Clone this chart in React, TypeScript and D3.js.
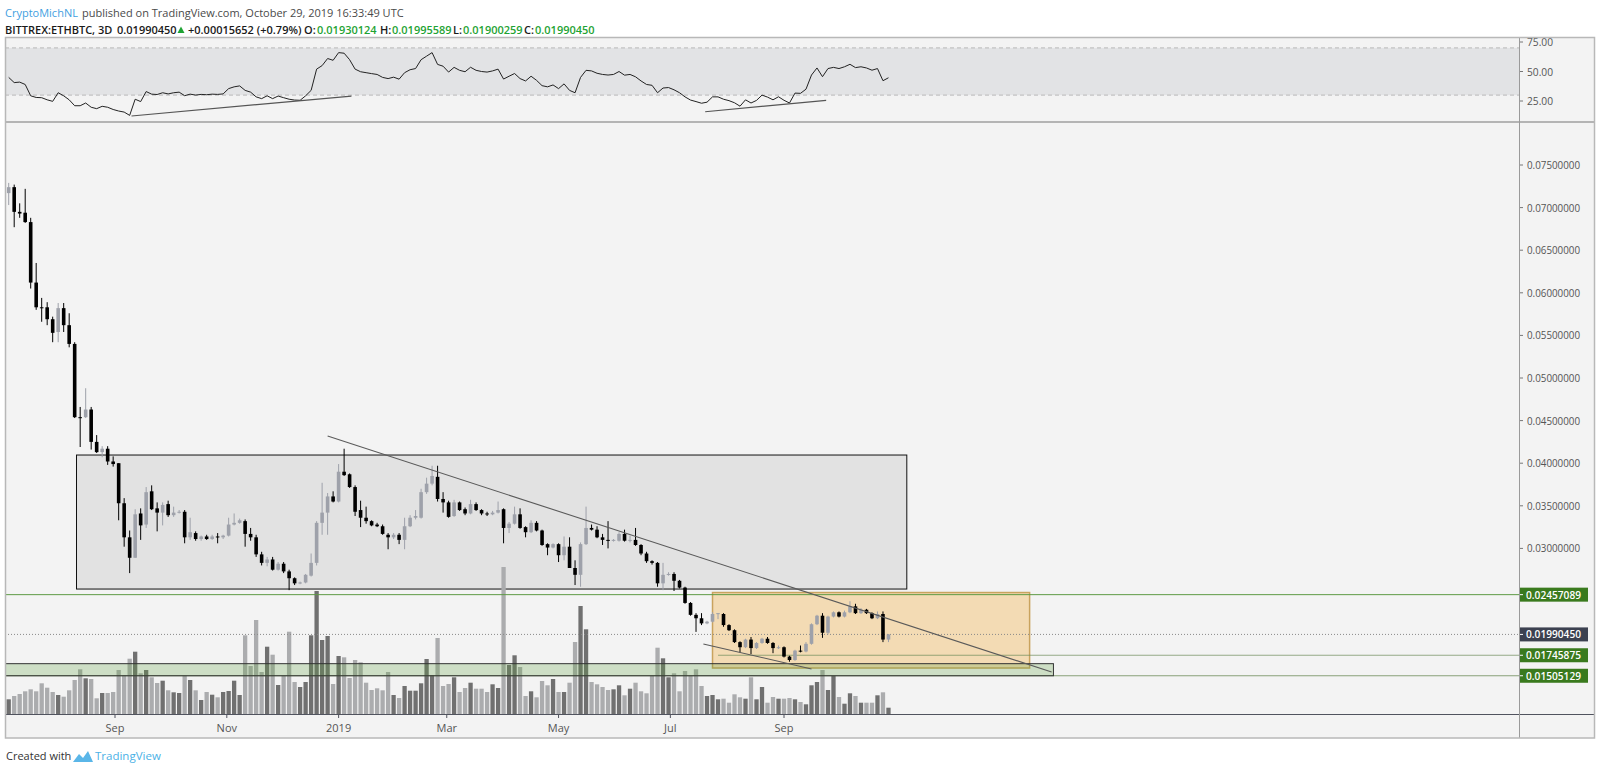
import React from 'react';
import * as d3 from 'd3';

// ETHBTC 3D candles, Jul 2018 - Oct 2019
const firstBarDate = new Date(Date.UTC(2018, 6, 5));
const barDays = 3;

const opens = [
  0.0717, 0.0724, 0.0695, 0.0694, 0.0683, 0.0612, 0.0583, 0.0583, 0.0569, 0.0554,
  0.0582, 0.0562, 0.0540, 0.0454, 0.0454, 0.0463, 0.0425, 0.0413, 0.0417, 0.0402,
  0.0400, 0.0353, 0.0313, 0.0289, 0.0341, 0.0328, 0.0367, 0.0347, 0.0342, 0.0352,
  0.0339, 0.0342, 0.0343, 0.0313, 0.0318, 0.0311, 0.0314, 0.0311, 0.0314, 0.0313,
  0.0315, 0.0328, 0.0330, 0.0332, 0.0317, 0.0313, 0.0293, 0.0283, 0.0287, 0.0275,
  0.0282, 0.0273, 0.0265, 0.0259, 0.0260, 0.0268, 0.0283, 0.0330, 0.0342, 0.0361,
  0.0355, 0.0390, 0.0387, 0.0372, 0.0345, 0.0336, 0.0332, 0.0328, 0.0326, 0.0316,
  0.0313, 0.0316, 0.0310, 0.0326, 0.0336, 0.0336, 0.0366, 0.0376, 0.0384, 0.0358,
  0.0354, 0.0338, 0.0354, 0.0346, 0.0341, 0.0352, 0.0345, 0.0341, 0.0340, 0.0342,
  0.0346, 0.0324, 0.0329, 0.0340, 0.0325, 0.0319, 0.0330, 0.0321, 0.0305, 0.0301,
  0.0305, 0.0292, 0.0302, 0.0277, 0.0269, 0.0305, 0.0324, 0.0322, 0.0313, 0.0310,
  0.0309, 0.0309, 0.0317, 0.0309, 0.0310, 0.0304, 0.0294, 0.0285, 0.0283, 0.0259,
  0.0269, 0.0270, 0.0262, 0.0254, 0.0236, 0.0222, 0.0218, 0.0212, 0.0214, 0.0223,
  0.0223, 0.0210, 0.0204, 0.0190, 0.0184, 0.0193, 0.0183, 0.0189, 0.0194, 0.0189,
  0.0183, 0.0184, 0.0173, 0.0169, 0.0180, 0.0179, 0.0188, 0.0211, 0.0221, 0.0201,
  0.0220, 0.0225, 0.0220, 0.0225, 0.0232, 0.0224, 0.0228, 0.0224, 0.0218, 0.0223,
  0.01930124,
];

const highs = [
  0.0729, 0.0727, 0.0705, 0.0722, 0.0688, 0.0635, 0.0594, 0.0589, 0.0572, 0.0588,
  0.0588, 0.0576, 0.0542, 0.0466, 0.0488, 0.0466, 0.0433, 0.0420, 0.0420, 0.0408,
  0.0400, 0.0359, 0.0321, 0.0346, 0.0347, 0.0372, 0.0374, 0.0354, 0.0354, 0.0356,
  0.0349, 0.0345, 0.0345, 0.0336, 0.0320, 0.0315, 0.0316, 0.0316, 0.0318, 0.0316,
  0.0336, 0.0341, 0.0335, 0.0334, 0.0324, 0.0316, 0.0296, 0.0290, 0.0290, 0.0284,
  0.0284, 0.0275, 0.0266, 0.0261, 0.0270, 0.0294, 0.0332, 0.0377, 0.0365, 0.0367,
  0.0399, 0.0417, 0.0388, 0.0374, 0.0356, 0.0349, 0.0333, 0.0330, 0.0328, 0.0318,
  0.0318, 0.0318, 0.0336, 0.0339, 0.0345, 0.0370, 0.0383, 0.0397, 0.0397, 0.0366,
  0.0356, 0.0357, 0.0355, 0.0348, 0.0357, 0.0354, 0.0346, 0.0343, 0.0344, 0.0355,
  0.0347, 0.0331, 0.0349, 0.0347, 0.0326, 0.0333, 0.0332, 0.0322, 0.0306, 0.0306,
  0.0306, 0.0314, 0.0313, 0.0286, 0.0307, 0.0349, 0.0328, 0.0326, 0.0317, 0.0332,
  0.0311, 0.0319, 0.0322, 0.0315, 0.0324, 0.0305, 0.0296, 0.0286, 0.0284, 0.0283,
  0.0272, 0.0272, 0.0263, 0.0255, 0.0237, 0.0224, 0.0224, 0.0215, 0.0225, 0.0224,
  0.0224, 0.0211, 0.0205, 0.0191, 0.0194, 0.0196, 0.0190, 0.0195, 0.0196, 0.0190,
  0.0186, 0.0185, 0.0174, 0.0181, 0.0186, 0.0190, 0.0212, 0.0222, 0.0224, 0.0221,
  0.0226, 0.0226, 0.0227, 0.0238, 0.0235, 0.0230, 0.0229, 0.0225, 0.0226, 0.0226,
  0.01995589,
];

const lows = [
  0.0703, 0.0677, 0.0688, 0.0682, 0.0605, 0.0580, 0.0566, 0.0562, 0.0542, 0.0542,
  0.0554, 0.0536, 0.0453, 0.0419, 0.0453, 0.0416, 0.0412, 0.0407, 0.0398, 0.0396,
  0.0333, 0.0302, 0.0271, 0.0289, 0.0310, 0.0324, 0.0345, 0.0320, 0.0327, 0.0337,
  0.0337, 0.0341, 0.0306, 0.0310, 0.0309, 0.0309, 0.0310, 0.0310, 0.0306, 0.0311,
  0.0314, 0.0327, 0.0329, 0.0302, 0.0309, 0.0290, 0.0280, 0.0279, 0.0274, 0.0274,
  0.0271, 0.0251, 0.0257, 0.0258, 0.0259, 0.0267, 0.0280, 0.0316, 0.0316, 0.0354,
  0.0354, 0.0385, 0.0371, 0.0338, 0.0325, 0.0329, 0.0326, 0.0325, 0.0316, 0.0299,
  0.0311, 0.0305, 0.0299, 0.0325, 0.0334, 0.0335, 0.0364, 0.0374, 0.0355, 0.0342,
  0.0336, 0.0337, 0.0344, 0.0339, 0.0340, 0.0344, 0.0339, 0.0338, 0.0339, 0.0341,
  0.0306, 0.0318, 0.0328, 0.0323, 0.0313, 0.0318, 0.0320, 0.0303, 0.0292, 0.0300,
  0.0284, 0.0286, 0.0277, 0.0257, 0.0255, 0.0304, 0.0321, 0.0312, 0.0304, 0.0300,
  0.0308, 0.0308, 0.0308, 0.0307, 0.0303, 0.0292, 0.0283, 0.0281, 0.0255, 0.0251,
  0.0268, 0.0250, 0.0253, 0.0235, 0.0221, 0.0202, 0.0210, 0.0211, 0.0213, 0.0217,
  0.0208, 0.0203, 0.0189, 0.0178, 0.0183, 0.0176, 0.0182, 0.0188, 0.0188, 0.0177,
  0.0182, 0.0172, 0.0167, 0.0168, 0.0178, 0.0178, 0.0187, 0.0210, 0.0195, 0.0199,
  0.0219, 0.0219, 0.0219, 0.0224, 0.0223, 0.0223, 0.0223, 0.0217, 0.0217, 0.0190,
  0.01900259,
];

const closes = [
  0.0724, 0.0695, 0.0693, 0.0683, 0.0612, 0.0583, 0.0582, 0.0569, 0.0553, 0.0582,
  0.0562, 0.0540, 0.0454, 0.0453, 0.0463, 0.0425, 0.0413, 0.0417, 0.0402, 0.0399,
  0.0353, 0.0313, 0.0289, 0.0340, 0.0327, 0.0366, 0.0346, 0.0342, 0.0351, 0.0339,
  0.0342, 0.0343, 0.0313, 0.0319, 0.0311, 0.0314, 0.0311, 0.0314, 0.0313, 0.0315,
  0.0328, 0.0330, 0.0333, 0.0317, 0.0313, 0.0293, 0.0283, 0.0287, 0.0275, 0.0282,
  0.0273, 0.0265, 0.0259, 0.0260, 0.0269, 0.0283, 0.0330, 0.0342, 0.0361, 0.0355,
  0.0390, 0.0386, 0.0372, 0.0343, 0.0336, 0.0332, 0.0327, 0.0326, 0.0317, 0.0313,
  0.0316, 0.0310, 0.0326, 0.0336, 0.0338, 0.0366, 0.0376, 0.0385, 0.0358, 0.0354,
  0.0337, 0.0354, 0.0345, 0.0341, 0.0352, 0.0345, 0.0341, 0.0340, 0.0342, 0.0345,
  0.0324, 0.0329, 0.0340, 0.0324, 0.0319, 0.0330, 0.0321, 0.0304, 0.0301, 0.0305,
  0.0292, 0.0302, 0.0277, 0.0269, 0.0305, 0.0324, 0.0322, 0.0313, 0.0310, 0.0309,
  0.0310, 0.0317, 0.0309, 0.0310, 0.0304, 0.0294, 0.0285, 0.0283, 0.0259, 0.0269,
  0.0270, 0.0262, 0.0254, 0.0236, 0.0222, 0.0218, 0.0212, 0.0214, 0.0223, 0.0224,
  0.0210, 0.0204, 0.0190, 0.0184, 0.0193, 0.0183, 0.0189, 0.0194, 0.0189, 0.0183,
  0.0184, 0.0173, 0.0169, 0.0180, 0.0179, 0.0188, 0.0211, 0.0221, 0.0201, 0.0220,
  0.0225, 0.0220, 0.0225, 0.0232, 0.0224, 0.0228, 0.0224, 0.0218, 0.0223, 0.0193,
  0.01990450,
];

// volume, thousand ETH (no axis shown)
const volumes = [
  14.7, 18, 20, 22.7, 24.7, 22.7, 30.7, 26.3, 22, 19,
  17.3, 23.7, 34, 44.7, 35.7, 35, 15.7, 21, 21, 22,
  44, 38.7, 55.3, 62.3, 40.7, 44, 36.7, 31, 33.3, 23.7,
  21.7, 21, 38, 34, 23.7, 14, 22, 19.3, 16.7, 22,
  23, 33.3, 19, 78.7, 48, 94, 42, 67.3, 59.3, 29,
  38, 82.3, 32, 27, 32, 78.7, 123, 74, 78, 30,
  58, 56.7, 36, 54, 51.7, 31.3, 24, 25.7, 23.7, 42,
  19, 16, 28, 23.3, 23.3, 30.7, 55, 38.7, 76, 28,
  30, 36.7, 22, 26, 31.3, 25.3, 25.3, 22, 29.7, 26,
  147, 49, 58.7, 47, 18, 22.7, 16.7, 33, 28.7, 35,
  22, 22, 31.3, 72, 108, 84.7, 32, 29.7, 27, 24,
  24.7, 28.7, 18.7, 25.3, 31.3, 22.7, 20.7, 38, 66.3, 55.7,
  36.7, 40.7, 22.7, 43, 38, 44.7, 28, 18, 19, 14.7,
  15.3, 11.3, 19.7, 16.7, 15.3, 36.7, 14.7, 27, 11.3, 17,
  15.3, 15.3, 16, 14.7, 12, 9.7, 28.7, 32, 44, 24,
  38, 17, 10.3, 20.7, 18, 11.3, 11.3, 11.3, 18.7, 21.7,
  6.3,
];

const rsiValues = [
  45, 40.6, 41, 39, 29.4, 28, 27.8, 26, 24.7, 32,
  29.4, 26, 21, 21, 23.3, 19.7, 18.5, 20.5, 19.7, 17.8,
  16.5, 15.6, 12.8, 26.5, 24.5, 33, 30.8, 30.5, 32, 31,
  32, 32.5, 29.5, 30.8, 30, 30.6, 30.3, 30.8, 30.6, 31,
  35.5, 37, 37.8, 34, 32.5, 28.5, 27, 29.4, 27, 29.2,
  27.8, 26.5, 25.8, 25.6, 29.4, 34, 52, 55, 61, 59.5,
  66, 65.5, 60, 52, 49.8, 49, 48.2, 47.5, 45, 44,
  45.2, 43.5, 49, 51.5, 52.5, 60, 63, 66, 56, 54.5,
  49.5, 53.5, 51, 49.8, 53.6, 51, 50, 49.5, 50.5, 52,
  43.6, 46, 48.3, 44, 42, 46, 42.5, 38, 37, 38.6,
  35.5, 39.5, 34, 32, 45, 51, 50.5, 48.5, 47.5, 47,
  47.5, 50, 46.9, 47.5, 45.5, 42, 39, 38.3, 32, 36,
  36.4, 34.5, 32, 28.5, 25.8, 24.5, 23.1, 24, 28.5, 28.5,
  26.5, 25.3, 23.5, 20.6, 26, 23.3, 25.5, 30, 28.3, 26,
  28.6, 25.6, 23.3, 31.7, 31.5, 35, 47, 53, 45.6, 52.5,
  53.5, 52.5, 54, 56.1, 53.3, 54, 53, 51.1, 52.5, 42.2,
  44.7,
];

const priceTicks = [0.03, 0.035, 0.04, 0.045, 0.05, 0.055, 0.06, 0.065, 0.07, 0.075];
const rsiTicks = [25, 50, 75];

const priceLabels = [
  { value: 0.02457089, fill: '#3a7a1e' },
  { value: 0.0199045, fill: '#3c4150' },
  { value: 0.01745875, fill: '#3a7a1e' },
  { value: 0.01505129, fill: '#3a7a1e' },
];

// header legend pieces: [text, x, green?]
const legendPieces: [string, number, boolean][] = [
  ['BITTREX:ETHBTC, 3D', 5, false],
  ['0.01990450', 117, false],
  ['+0.00015652 (+0.79%)', 188, false],
  ['O:', 304, false],
  ['0.01930124', 317, true],
  ['H:', 380, false],
  ['0.01995589', 392, true],
  ['L:', 453, false],
  ['0.01900259', 463, true],
  ['C:', 524, false],
  ['0.01990450', 535, true],
];

const utc = (y: number, m: number, d: number) => new Date(Date.UTC(y, m - 1, d));

// drawings
const trendLine = [
  { date: utc(2018, 12, 26), price: 0.04319 },
  { date: utc(2020, 1, 25), price: 0.01549 },
];
const wedgeLine = [
  { date: utc(2019, 7, 19), price: 0.01878 },
  { date: utc(2019, 9, 16), price: 0.01585 },
];
const rsiDivergence1 = [
  { date: utc(2018, 9, 10), value: 12.3 },
  { date: utc(2019, 1, 8), value: 29.2 },
];
const rsiDivergence2 = [
  { date: utc(2019, 7, 20), value: 15.9 },
  { date: utc(2019, 9, 24), value: 25.6 },
];
const rangeBox = { from: utc(2018, 8, 11), to: utc(2019, 11, 7), top: 0.04096, bottom: 0.02523 };
const orangeBox = { from: utc(2019, 7, 24), to: utc(2020, 1, 13), top: 0.02482, bottom: 0.01596 };
const supportBand = { from: utc(2018, 7, 1), to: utc(2020, 1, 26), top: 0.01647, bottom: 0.01505129 };
const rayStart = utc(2019, 7, 27);

const L = 5;
const PR = 1519; // price axis left
const FR = 1594;
const RSI_TOP = 38;
const RSI_BOT = 121;
const MAIN_TOP = 123;
const MAIN_BOT = 714;
const FRAME_BOT = 738;

const fmtPrice = (v: number) => v.toFixed(8);

export default function App() {
  const dates = opens.map((_, i) => d3.utcDay.offset(firstBarDate, i * barDays));

  const x = d3.scaleUtc().domain([utc(2018, 9, 1), utc(2019, 9, 1)]).range([115, 784]);
  const y = d3.scaleLinear().domain([0.075, 0.03]).range([165, 548.4]);
  const yr = d3.scaleLinear().domain([25, 75]).range([101, 42]);
  const yv = d3.scaleLinear().domain([0, 150]).range([MAIN_BOT, MAIN_BOT - 150]);

  const leftDate = x.invert(L);
  const rightDate = x.invert(PR);
  const timeTicks = x.ticks(d3.utcMonth.every(2)!).filter(d => d >= leftDate && d <= rightDate);
  const tickFmt = (d: Date) => (d.getUTCMonth() === 0 ? d3.utcFormat('%Y')(d) : d3.utcFormat('%b')(d));

  const rsiLine = d3.line<number>().x((_, i) => x(dates[i])).y(v => yr(v));

  const bodyW = 3.6;
  const volW = 4.3;
  const upFill = '#9ea1aa';
  const downFill = '#000000';
  const volUp = '#707070';
  const volDown = '#abacae';

  const hdrDark = '#1a1a1a';
  const green = '#1fa334';

  return (
    <svg
      width={1600}
      height={771}
      style={{ position: 'absolute', left: 0, top: 0, background: '#fff' }}
      fontFamily="'Open Sans', 'Noto Sans', 'DejaVu Sans', sans-serif"
    >
      <defs>
        <clipPath id="mainClip">
          <rect x={L} y={MAIN_TOP} width={PR - L} height={MAIN_BOT - MAIN_TOP} />
        </clipPath>
        <clipPath id="rsiClip">
          <rect x={L} y={RSI_TOP} width={PR - L} height={RSI_BOT - RSI_TOP} />
        </clipPath>
        <clipPath id="rsiAxisClip">
          <rect x={PR} y={RSI_TOP} width={FR - PR} height={RSI_BOT - RSI_TOP} />
        </clipPath>
      </defs>

      {/* header */}
      <text x={5} y={17} fontSize={11} fill="#3fa0df">CryptoMichNL</text>
      <text x={82} y={17} fontSize={11} fill="#4a4a4a">published on TradingView.com, October 29, 2019 16:33:49 UTC</text>
      <g fontSize={11} fontWeight={600}>
        {legendPieces.map(([t, px, g], i) => (
          <text key={i} x={px} y={34} fill={g ? green : hdrDark}>{t}</text>
        ))}
      </g>
      <path d="M177.5,33 L181,26.5 L184.5,33 Z" fill={green} />

      {/* frame background */}
      <rect x={L} y={RSI_TOP} width={FR - L} height={FRAME_BOT - RSI_TOP} fill="#f3f3f3" />

      {/* RSI pane */}
      <g clipPath="url(#rsiClip)">
        <rect x={L} y={yr(70)} width={PR - L} height={yr(30) - yr(70)} fill="#e2e3e5" />
        {[70, 30].map(v => (
          <line key={v} x1={L} x2={PR} y1={yr(v)} y2={yr(v)} stroke="#b9b9b9" strokeDasharray="4,3" />
        ))}
        <path d={rsiLine(rsiValues) ?? ''} fill="none" stroke="#222" strokeWidth={1} />
        {[rsiDivergence1, rsiDivergence2].map((seg, i) => (
          <line
            key={i}
            x1={x(seg[0].date)}
            y1={yr(seg[0].value)}
            x2={x(seg[1].date)}
            y2={yr(seg[1].value)}
            stroke="#555"
            strokeWidth={1.2}
          />
        ))}
      </g>
      <g clipPath="url(#rsiAxisClip)" fontSize={11} fill="#555">
        {rsiTicks.map(t => (
          <g key={t}>
            <line x1={PR} x2={PR + 4} y1={yr(t)} y2={yr(t)} stroke="#777" />
            <text x={1527} y={yr(t) + 4} textLength={26} lengthAdjust="spacingAndGlyphs">{t.toFixed(2)}</text>
          </g>
        ))}
      </g>

      {/* main pane */}
      <g clipPath="url(#mainClip)">
        <rect
          x={x(rangeBox.from)}
          y={y(rangeBox.top)}
          width={x(rangeBox.to) - x(rangeBox.from)}
          height={y(rangeBox.bottom) - y(rangeBox.top)}
          fill="rgba(0,0,0,0.065)"
          stroke="#111"
          strokeWidth={1}
        />
        <rect
          x={x(orangeBox.from)}
          y={y(orangeBox.top)}
          width={x(orangeBox.to) - x(orangeBox.from)}
          height={y(orangeBox.bottom) - y(orangeBox.top)}
          fill="rgba(245,166,35,0.3)"
          stroke="#c9a35e"
          strokeWidth={1.5}
        />

        {volumes.map((v, i) => (
          <rect
            key={i}
            x={x(dates[i]) - volW / 2}
            y={yv(v)}
            width={volW}
            height={MAIN_BOT - yv(v)}
            fill={closes[i] >= opens[i] ? volUp : volDown}
          />
        ))}

        {/* horizontal levels */}
        <line x1={L} x2={PR} y1={y(0.02457089)} y2={y(0.02457089)} stroke="#5e9a45" strokeWidth={1} />
        <line x1={x(rayStart)} x2={PR} y1={y(0.01745875)} y2={y(0.01745875)} stroke="rgba(110,140,90,0.7)" strokeWidth={1.2} />
        <line x1={L} x2={PR} y1={y(0.01505129)} y2={y(0.01505129)} stroke="rgba(110,140,90,0.8)" strokeWidth={1.2} />
        <rect
          x={x(supportBand.from)}
          y={y(supportBand.top)}
          width={x(supportBand.to) - x(supportBand.from)}
          height={y(supportBand.bottom) - y(supportBand.top)}
          fill="rgba(90,160,60,0.25)"
          stroke="#333"
          strokeWidth={1}
        />
        <line x1={L} x2={PR} y1={y(0.0199045)} y2={y(0.0199045)} stroke="#8a8a8a" strokeDasharray="1,2" />

        {/* candles */}
        {opens.map((o, i) => {
          const c = closes[i];
          const up = c >= o;
          const col = up ? upFill : downFill;
          const cx = x(dates[i]);
          const top = y(Math.max(o, c));
          const h = Math.max(1, Math.abs(y(o) - y(c)));
          return (
            <g key={i}>
              <line x1={cx} x2={cx} y1={y(highs[i])} y2={y(lows[i])} stroke={col} strokeWidth={1} />
              <rect x={cx - bodyW / 2} y={top} width={bodyW} height={h} fill={col} />
            </g>
          );
        })}

        {[trendLine, wedgeLine].map((seg, i) => (
          <line
            key={i}
            x1={x(seg[0].date)}
            y1={y(seg[0].price)}
            x2={x(seg[1].date)}
            y2={y(seg[1].price)}
            stroke="#5a5a5a"
            strokeWidth={1.1}
          />
        ))}
      </g>

      {/* price axis */}
      <g fontSize={11} fill="#555">
        {priceTicks.map(t => (
          <g key={t}>
            <line x1={PR} x2={PR + 4} y1={y(t)} y2={y(t)} stroke="#777" />
            <text x={1527} y={y(t) + 4} textLength={53} lengthAdjust="spacingAndGlyphs">{fmtPrice(t)}</text>
          </g>
        ))}
      </g>
      {priceLabels.map(p => (
        <g key={p.value}>
          <rect x={PR} y={y(p.value) - 7} width={69} height={14} fill={p.fill} />
          <line x1={PR} x2={PR + 4} y1={y(p.value)} y2={y(p.value)} stroke="#fff" />
          <text
            x={1526}
            y={y(p.value) + 4}
            fill="#fff"
            fontSize={11}
            fontWeight={600}
            textLength={55}
            lengthAdjust="spacingAndGlyphs"
          >
            {fmtPrice(p.value)}
          </text>
        </g>
      ))}

      {/* time axis */}
      <line x1={L} x2={FR} y1={MAIN_BOT + 0.5} y2={MAIN_BOT + 0.5} stroke="#50535e" />
      <g fontSize={11} fill="#555" textAnchor="middle">
        {timeTicks.map(d => (
          <g key={+d}>
            <line x1={x(d)} x2={x(d)} y1={MAIN_BOT} y2={MAIN_BOT + 4} stroke="#50535e" />
            <text x={x(d)} y={732}>{tickFmt(d)}</text>
          </g>
        ))}
      </g>

      {/* separators & frame */}
      <line x1={L} x2={FR} y1={122} y2={122} stroke="#b4b4b4" strokeWidth={2} />
      <line x1={PR + 0.5} x2={PR + 0.5} y1={RSI_TOP} y2={FRAME_BOT} stroke="#9a9a9a" />
      <rect x={L + 0.5} y={RSI_TOP - 0.5} width={FR - L} height={FRAME_BOT - RSI_TOP + 0.5} fill="none" stroke="#b8b8b8" strokeWidth={1.5} />

      {/* footer */}
      <text x={6} y={760} fontSize={11} fill="#333">Created with</text>
      <path d="M73,762 L79,754 L83,758 L88,751 L93,762 Z" fill="#5ab6e8" />
      <text x={95} y={760} fontSize={11.5} fill="#4cb1e6">TradingView</text>
    </svg>
  );
}
